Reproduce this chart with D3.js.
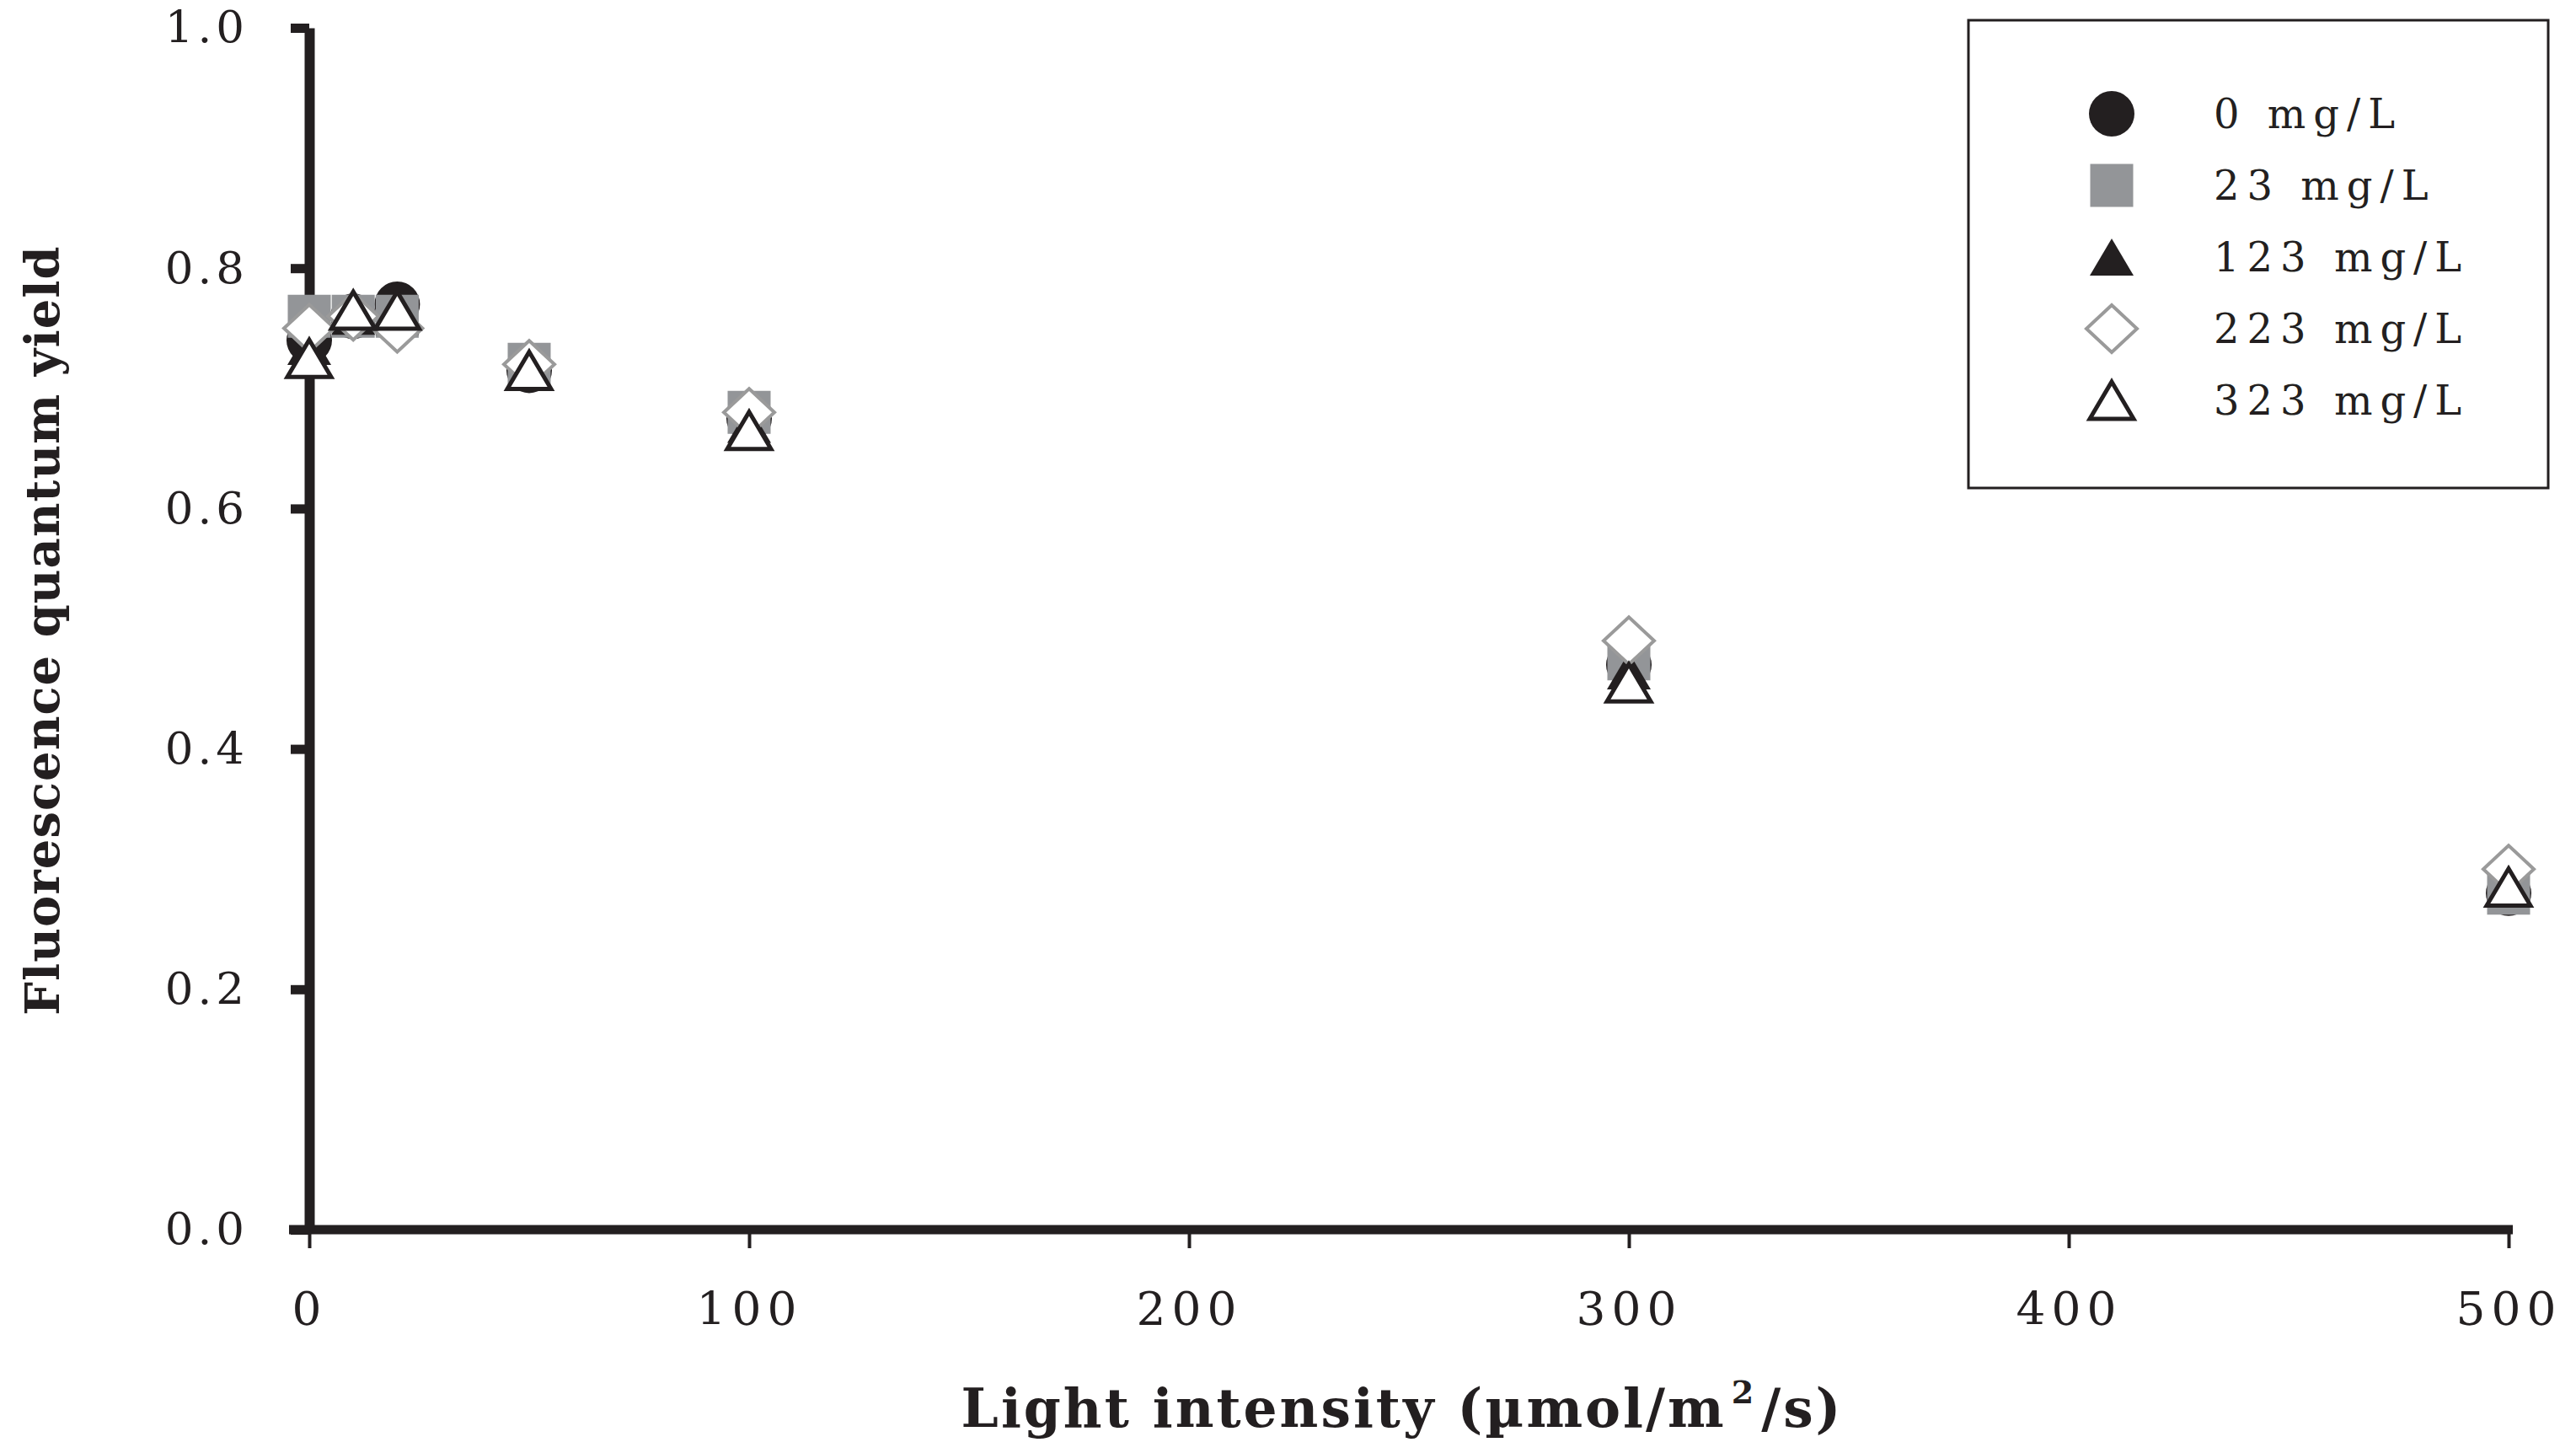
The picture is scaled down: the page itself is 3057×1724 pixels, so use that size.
<!DOCTYPE html>
<html>
<head>
<meta charset="utf-8">
<script src="https://cdn.jsdelivr.net/npm/d3@7"></script>
<style>
  body { margin: 0; background: #fff; }
  .tick text { font-family: "DejaVu Serif", serif; fill: #231f20; }
  .axis-title { font-family: "DejaVu Serif", serif; font-weight: bold; fill: #231f20; }
  .legend text { font-family: "DejaVu Serif", serif; fill: #231f20; }
</style>
</head>
<body>
<div id="chart"></div>
<script>
  // light intensity (umol/m2/s) at each measurement
  var lightLevels = [0, 10, 20, 50, 100, 300, 500];

  var seriesNames = ['0 mg/L', '23 mg/L', '123 mg/L', '223 mg/L', '323 mg/L'];

  // fluorescence quantum yield per concentration
  var yield0   = [0.74, 0.76, 0.77, 0.715, 0.675, 0.47, 0.28];
  var yield23  = [0.76, 0.76, 0.76, 0.72, 0.68, 0.475, 0.28];
  var yield123 = [0.735, 0.76, 0.76, 0.715, 0.67, 0.465, 0.285];
  var yield223 = [0.75, 0.76, 0.75, 0.72, 0.68, 0.49, 0.30];
  var yield323 = [0.725, 0.765, 0.765, 0.715, 0.665, 0.455, 0.285];

  var xTicks = [0, 100, 200, 300, 400, 500];
  var yTicks = [0, 0.2, 0.4, 0.6, 0.8, 1.0];

  var width = 3057;
  var height = 1724;

  var svg = d3.select('#chart').append('svg')
    .attr('width', width)
    .attr('height', height);

  var xScale = d3.scaleLinear().domain([0, 500]).range([367, 2977]);
  var yScale = d3.scaleLinear().domain([0, 1]).range([1459, 33]);

  // marker shapes, drawn around (0,0)
  function markerPath(kind) {
    if (kind === 'circle') return d3.symbol(d3.symbolCircle, Math.PI * 27 * 27)();
    if (kind === 'square') return d3.symbol(d3.symbolSquare, 51 * 51)();
    if (kind === 'triangle') return 'M0,-22L26,22L-26,22Z';
    return 'M0,-28L30,0L0,28L-30,0Z';
  }

  var series = [
    { name: seriesNames[0], values: yield0, kind: 'circle', fill: '#231f20', stroke: 'none', sw: 0 },
    { name: seriesNames[1], values: yield23, kind: 'square', fill: '#939598', stroke: 'none', sw: 0 },
    { name: seriesNames[2], values: yield123, kind: 'triangle', fill: '#231f20', stroke: 'none', sw: 0 },
    { name: seriesNames[3], values: yield223, kind: 'diamond', fill: '#fff', stroke: '#9a9a9a', sw: 4 },
    { name: seriesNames[4], values: yield323, kind: 'triangle', fill: '#fff', stroke: '#231f20', sw: 5 }
  ];

  // axes
  var xAxis = d3.axisBottom(xScale)
    .tickValues(xTicks)
    .tickSize(22)
    .tickSizeOuter(0)
    .tickPadding(52)
    .tickFormat(d3.format('d'));

  var yAxis = d3.axisLeft(yScale)
    .tickValues(yTicks)
    .tickSize(22)
    .tickSizeOuter(0)
    .tickPadding(50)
    .tickFormat(d3.format('.1f'));

  var gx = svg.append('g')
    .attr('transform', 'translate(0,' + yScale(0) + ')')
    .call(xAxis);
  gx.select('.domain')
    .attr('d', 'M' + (xScale(0) - 24) + ',0H' + (xScale(500) + 5))
    .attr('stroke', '#231f20').attr('stroke-width', 11);
  gx.selectAll('.tick line').attr('stroke', '#231f20').attr('stroke-width', 4);
  gx.selectAll('.tick text')
    .style('font-size', '55px')
    .style('letter-spacing', '7px');

  var gy = svg.append('g')
    .attr('transform', 'translate(' + xScale(0) + ',0)')
    .call(yAxis);
  gy.select('.domain').attr('stroke', '#231f20').attr('stroke-width', 12);
  gy.selectAll('.tick line').attr('stroke', '#231f20').attr('stroke-width', 11);
  gy.selectAll('.tick text')
    .style('font-size', '53px')
    .style('letter-spacing', '5px');

  // points
  series.forEach(function(s) {
    svg.append('g')
      .selectAll('path')
      .data(s.values)
      .enter()
      .append('path')
      .attr('d', markerPath(s.kind))
      .attr('transform', function(d, i) {
        return 'translate(' + xScale(lightLevels[i]) + ',' + yScale(d) + ')';
      })
      .attr('fill', s.fill)
      .attr('stroke', s.stroke)
      .attr('stroke-width', s.sw);
  });

  // axis titles
  var xTitle = svg.append('text')
    .attr('class', 'axis-title')
    .attr('text-anchor', 'middle')
    .attr('x', 1664)
    .attr('y', 1693)
    .style('font-size', '63px')
    .style('letter-spacing', '3px');
  xTitle.append('tspan').text('Light intensity (µmol/m');
  xTitle.append('tspan').attr('dx', 6).attr('dy', -28).style('font-size', '38px').text('2');
  xTitle.append('tspan').attr('dx', 6).attr('dy', 28).text('/s)');

  svg.append('text')
    .attr('class', 'axis-title')
    .attr('text-anchor', 'middle')
    .attr('transform', 'translate(70,748) rotate(-90)')
    .style('font-size', '56px')
    .style('letter-spacing', '1px')
    .text('Fluorescence quantum yield');

  // legend
  svg.append('rect')
    .attr('x', 2336).attr('y', 24)
    .attr('width', 688).attr('height', 555)
    .attr('fill', 'none')
    .attr('stroke', '#231f20')
    .attr('stroke-width', 3);

  var legend = svg.append('g')
    .attr('class', 'legend')
    .selectAll('g')
    .data(series)
    .enter()
    .append('g')
    .attr('transform', function(d, i) {
      return 'translate(2506,' + (135 + i * 85) + ')';
    });

  legend.append('path')
    .attr('d', function(d) { return markerPath(d.kind); })
    .attr('fill', function(d) { return d.fill; })
    .attr('stroke', function(d) { return d.stroke; })
    .attr('stroke-width', function(d) { return d.sw; });

  legend.append('text')
    .attr('x', 121)
    .attr('y', 17)
    .style('font-size', '48px')
    .style('letter-spacing', '9px')
    .text(function(d) { return d.name; });
</script>
</body>
</html>
